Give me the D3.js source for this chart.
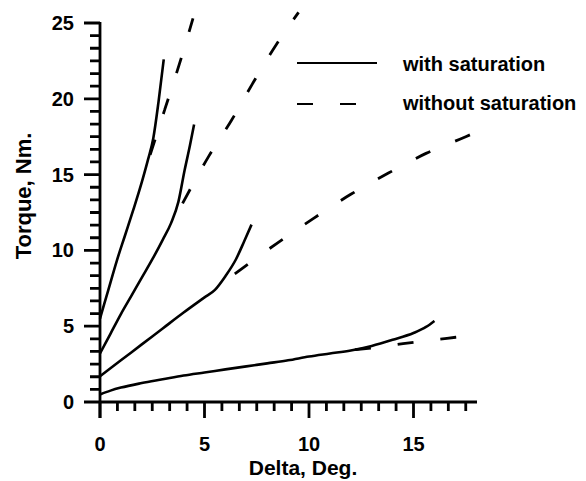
<!DOCTYPE html>
<html>
<meta charset="utf-8">
<style>
  body { margin: 0; background: #fff; }
  text { font-family: Arial, "Liberation Sans", sans-serif; fill: #000; }
</style>
<body>
<div id="chart"></div>
<script src="https://d3js.org/d3.v7.min.js"></script>
<script>
  // solid curves, "with saturation"
  var satA = [[0,5.5],[0.4,7.4],[0.8,9.3],[1.2,11.0],[1.6,12.7],[2.0,14.5],[2.3,16.0],[2.55,17.4],[2.8,19.8],[3.05,22.6]];
  var satB = [[0,3.2],[0.5,4.5],[1.0,5.8],[1.5,7.0],[2.0,8.2],[2.5,9.4],[3.0,10.7],[3.4,11.8],[3.75,13.2],[4.05,15.3],[4.3,16.9],[4.5,18.3]];
  var satC = [[0,1.7],[1,2.75],[2,3.8],[3,4.85],[4,5.9],[5,6.9],[5.5,7.4],[6.0,8.3],[6.5,9.4],[6.9,10.6],[7.25,11.7]];
  var satD = [[0,0.5],[0.5,0.75],[1,0.95],[2,1.25],[3,1.5],[4,1.75],[5,1.95],[6,2.15],[7,2.35],[8,2.55],[9,2.75],[10,3.0],[11,3.2],[12,3.4],[13,3.7],[14,4.1],[15,4.55],[15.6,4.95],[16,5.35]];

  // dashed curves, "without saturation"
  var noSatA = [[2.4,16.3],[3.1,19.3],[3.8,22.3],[4.45,25.3]];
  var noSatB = [[3.95,13.1],[5.2,16.2],[6.3,18.6],[7.3,21.0],[8.4,23.5],[9.5,25.7]];
  var noSatC = [[6.45,8.45],[8.5,10.5],[10.2,12.1],[12.0,13.7],[13.8,15.1],[15.6,16.4],[17.5,17.5],[18,17.8]];
  var noSatD = [[12.2,3.45],[13.5,3.65],[14.5,3.85],[16.6,4.2],[17.2,4.3]];

  var xMajor = [0, 5, 10, 15];
  var yMajor = [0, 5, 10, 15, 20, 25];
  var legendLabels = ["with saturation", "without saturation"];

  var W = 586, H = 481;
  var svg = d3.select("#chart").append("svg").attr("width", W).attr("height", H);

  var x = d3.scaleLinear().domain([0, 18]).range([100, 476.2]);
  var y = d3.scaleLinear().domain([0, 25]).range([402, 23]);

  // minor ticks every 5/6 of a unit, as on the original
  var minorX = d3.range(0, 18, 5 / 6);
  var minorY = d3.range(0, 25.01, 5 / 6);

  // tick labels
  svg.selectAll("text.xl").data(xMajor).enter().append("text").attr("class", "xl")
    .attr("x", function (d) { return x(d); }).attr("y", 451).attr("text-anchor", "middle")
    .attr("font-size", 20).attr("font-weight", "bold").text(function (d) { return d; });
  svg.selectAll("text.yl").data(yMajor).enter().append("text").attr("class", "yl")
    .attr("x", 74).attr("y", function (d) { return y(d); }).attr("dy", "0.35em").attr("text-anchor", "end")
    .attr("font-size", 20).attr("font-weight", "bold").text(function (d) { return d; });

  // axis titles
  svg.append("text").attr("x", 303).attr("y", 475).attr("text-anchor", "middle")
    .attr("font-size", 21).attr("font-weight", "bold").text("Delta, Deg.");
  svg.append("text").attr("transform", "translate(31,196) rotate(-90)").attr("text-anchor", "middle")
    .attr("font-size", 22).attr("font-weight", "bold").text("Torque, Nm.");

  var line = d3.line().x(function (d) { return x(d[0]); }).y(function (d) { return y(d[1]); })
    .curve(d3.curveMonotoneX);

  [satA, satB, satC, satD].forEach(function (s) {
    svg.append("path").datum(s).attr("d", line).attr("fill", "none")
      .attr("stroke", "#000").attr("stroke-width", 2.6);
  });
  [noSatA, noSatB, noSatC, noSatD].forEach(function (s) {
    svg.append("path").datum(s).attr("d", line).attr("fill", "none")
      .attr("stroke", "#000").attr("stroke-width", 2.8).attr("stroke-dasharray", "16,27");
  });

  // legend
  var leg = svg.append("g");
  leg.append("line").attr("x1", 297).attr("x2", 377).attr("y1", 63).attr("y2", 63)
    .attr("stroke", "#000").attr("stroke-width", 2.2);
  leg.append("line").attr("x1", 297).attr("x2", 358).attr("y1", 104).attr("y2", 104)
    .attr("stroke", "#000").attr("stroke-width", 2.2).attr("stroke-dasharray", "16,27");
  leg.selectAll("text.lab").data(legendLabels).enter().append("text")
    .attr("x", 403).attr("y", function (d, i) { return 71 + i * 39; })
    .attr("font-size", 20).attr("font-weight", "bold").text(function (d) { return d; });

  // axes last, as one path each, so nothing can cover them
  var p = d3.path();
  minorY.forEach(function (d) { p.moveTo(100, y(d)); p.lineTo(90, y(d)); });
  yMajor.forEach(function (d) { p.moveTo(100, y(d)); p.lineTo(84, y(d)); });
  p.moveTo(100, y(25) - 1); p.lineTo(100, 418);
  svg.append("path").attr("d", p.toString()).attr("fill", "none")
    .attr("stroke", "#000").attr("stroke-width", 2.8);

  var q = d3.path();
  minorX.forEach(function (d) { q.moveTo(x(d), y(0)); q.lineTo(x(d), y(0) + 9); });
  xMajor.forEach(function (d) { q.moveTo(x(d), y(0)); q.lineTo(x(d), y(0) + 16); });
  q.moveTo(x(0), y(0)); q.lineTo(477, y(0));
  svg.append("path").attr("d", q.toString()).attr("fill", "none")
    .attr("stroke", "#000").attr("stroke-width", 2.8);
</script>
</body>
</html>
